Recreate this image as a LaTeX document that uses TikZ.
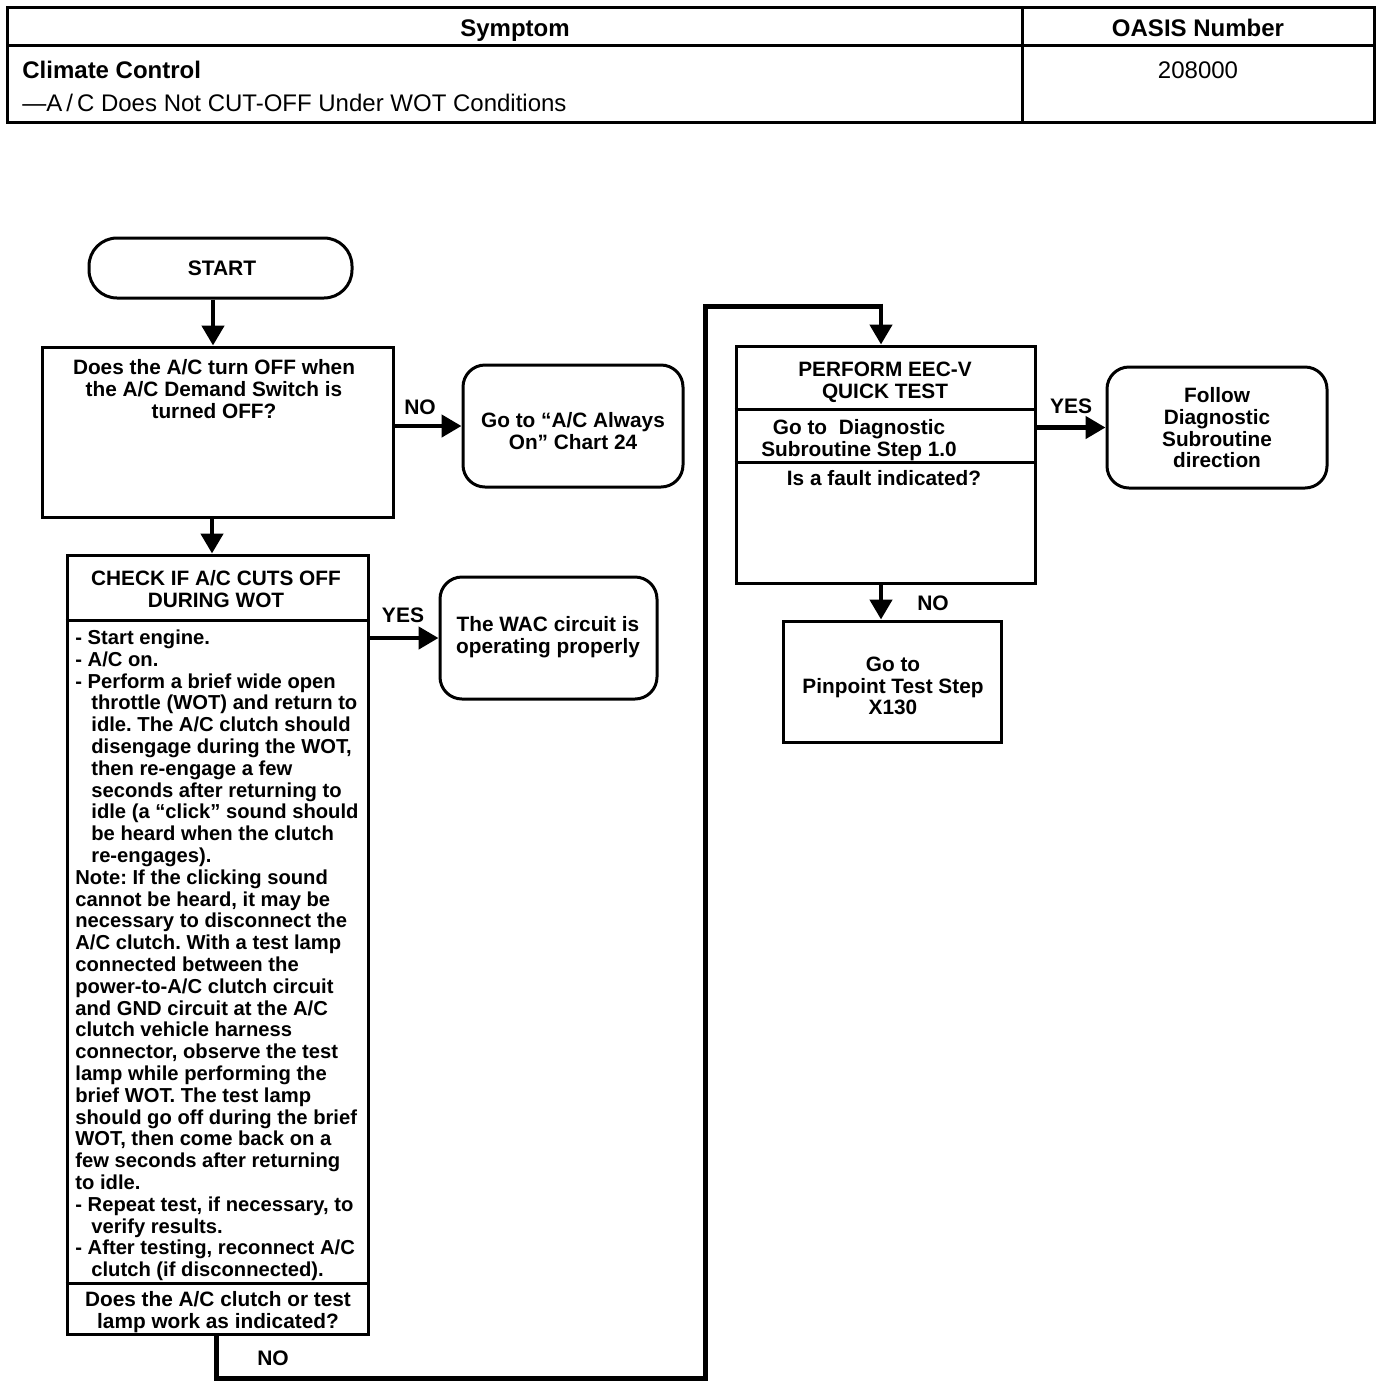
\documentclass[tikz,border=0pt]{standalone}
\usepackage{fontspec}
\setmainfont{Liberation Sans}
\usetikzlibrary{arrows.meta,calc}
\frenchspacing
\begin{document}
\frenchspacing
\begin{tikzpicture}[x=0.5pt,y=-0.5pt,
  frame/.style={line width=1.5pt},
  box/.style={draw, line width=1.5pt, inner sep=0pt},
  rbox/.style={box, rounded corners=11pt},
  ft/.style={font=\bfseries\fontsize{10.4}{10.8}\selectfont, inner sep=0pt, align=center, anchor=north},
  bodytxt/.style={font=\bfseries\fontsize{10.1}{10.9}\selectfont, inner sep=0pt, align=left, anchor=north west},
  lbl/.style={font=\bfseries\fontsize{10.5}{10.8}\selectfont, inner sep=0pt},
  hd/.style={font=\bfseries\fontsize{12}{14}\selectfont, inner sep=0pt},
  hdr/.style={font=\fontsize{12}{14}\selectfont, inner sep=0pt},
  arr/.style={line width=2.3pt, -{Triangle[length=10pt,width=11pt]}},
  loopline/.style={line width=2.5pt}]
\useasboundingbox[fill=white] (0,0) rectangle (1392,1388);

% ---- header table
\draw[frame] (7,7) rectangle (1374,122);
\draw[frame] (7,45) -- (1374,45);
\draw[frame] (1022,7) -- (1022,122);
\node[hd, anchor=base] (symh) at (515,36) {Symptom};
\node[hd, anchor=base] (oash) at (1198,36) {OASIS Number};
\node[hd, anchor=base west] (clim) at (22,78) {Climate Control};
\node[hdr, anchor=base west] (cond) at (22,111) {—A\,/\,C Does Not CUT-OFF Under WOT Conditions};
\node[hdr, anchor=base] (onum) at (1198,78) {208000};

% ---- boxes
\node[box, rounded corners=14pt, minimum width=131.5pt, minimum height=30pt] (start) at (220.5,268) {};
\node[box, minimum width=175.5pt, minimum height=85pt] (box1) at (217.5,432) {};
\node[rbox, minimum width=110pt, minimum height=61pt] (go24) at (573,426) {};
\node[box, minimum width=150.5pt, minimum height=389.5pt] (box2) at (217.5,944.5) {};
\node[rbox, minimum width=108.5pt, minimum height=61pt] (wac) at (548.5,638) {};
\node[box, minimum width=149.5pt, minimum height=118.5pt] (box3) at (885.5,464.5) {};
\node[rbox, minimum width=110pt, minimum height=60.5pt] (follow) at (1217,427.5) {};
\node[box, minimum width=109pt, minimum height=60.5pt] (box4) at (892,681.5) {};

% dividers
\coordinate (d1) at (0,620);
\coordinate (d2) at (0,1283);
\coordinate (d3) at (0,409);
\coordinate (d4) at (0,462);
\draw[frame] (box2.west |- d1) -- (box2.east |- d1);
\draw[frame] (box2.west |- d2) -- (box2.east |- d2);
\draw[frame] (box3.west |- d3) -- (box3.east |- d3);
\draw[frame] (box3.west |- d4) -- (box3.east |- d4);

% ---- texts
\node[lbl] (tstart) at (222,268) {START};
\node[ft] (tq1) at (214,359.5) {Does the A/C turn OFF when\\the A/C Demand Switch is\\turned OFF?};
\node[ft] (tgo24) at (573,412.5) {Go to “A/C Always\\On” Chart 24};
\node[ft] (tchk) at (216,570.5) {CHECK IF A/C CUTS OFF\\DURING WOT};
\node[bodytxt] (tbody) at (75,629.5) {%
- Start engine.\\
- A/C on.\\
- Perform a brief wide open\\
\hspace*{8pt}throttle (WOT) and return to\\
\hspace*{8pt}idle. The A/C clutch should\\
\hspace*{8pt}disengage during the WOT,\\
\hspace*{8pt}then re-engage a few\\
\hspace*{8pt}seconds after returning to\\
\hspace*{8pt}idle (a “click” sound should\\
\hspace*{8pt}be heard when the clutch\\
\hspace*{8pt}re-engages).\\
Note: If the clicking sound\\
cannot be heard, it may be\\
necessary to disconnect the\\
A/C clutch. With a test lamp\\
connected between the\\
power-to-A/C clutch circuit\\
and GND circuit at the A/C\\
clutch vehicle harness\\
connector, observe the test\\
lamp while performing the\\
brief WOT. The test lamp\\
should go off during the brief\\
WOT, then come back on a\\
few seconds after returning\\
to idle.\\
- Repeat test, if necessary, to\\
\hspace*{8pt}verify results.\\
- After testing, reconnect A/C\\
\hspace*{8pt}clutch (if disconnected).};
\node[ft] (tq2) at (218,1291.5) {Does the A/C clutch or test\\lamp work as indicated?};
\node[ft] (twac) at (548,616.5) {The WAC circuit is\\operating properly};
\node[ft] (tqt) at (885,361.5) {PERFORM EEC-V\\QUICK TEST};
\node[ft] (tdiag) at (859,419.5) {Go to\ \ Diagnostic\\Subroutine Step 1.0};
\node[ft] (tfault) at (884,470.5) {Is a fault indicated?};
\node[ft] (tfollow) at (1217,387.5) {Follow\\Diagnostic\\Subroutine\\direction};
\node[ft] (tpin) at (893,656.5) {Go to\\Pinpoint Test Step\\X130};

% ---- connectors
\coordinate (ax1) at (213,0);
\coordinate (ax2) at (212,0);
\coordinate (ax4) at (881,0);
\draw[arr] (start.south -| ax1) -- (box1.north -| ax1);
\draw[arr] (box1.east |- go24.west) -- (go24.west);
\draw[arr] (box1.south -| ax2) -- (box2.north -| ax2);
\draw[arr] (box2.east |- wac.west) -- (wac.west);
\draw[arr] (box3.east |- follow.west) -- (follow.west);
\draw[arr] (box3.south -| ax4) -- (box4.north -| ax4);

\coordinate (lb1) at (216,1378);
\coordinate (lb2) at (705,1378);
\coordinate (lb3) at (705,306);
\coordinate (lb4) at (881,306);
\draw[loopline] (box2.south -| lb1) -- (lb1) -- (lb2) -- (lb3) -- (lb4);
\draw[arr] ([yshift=1.25pt]lb4) -- (box3.north -| lb4);

% ---- labels
\node[lbl] (lno1) at (420,407) {NO};
\node[lbl] (lyes1) at (403,615) {YES};
\node[lbl] (lyes2) at (1071,406) {YES};
\node[lbl] (lno2) at (933,603) {NO};
\node[lbl] (lno3) at (273,1358) {NO};
\end{tikzpicture}
\end{document}
